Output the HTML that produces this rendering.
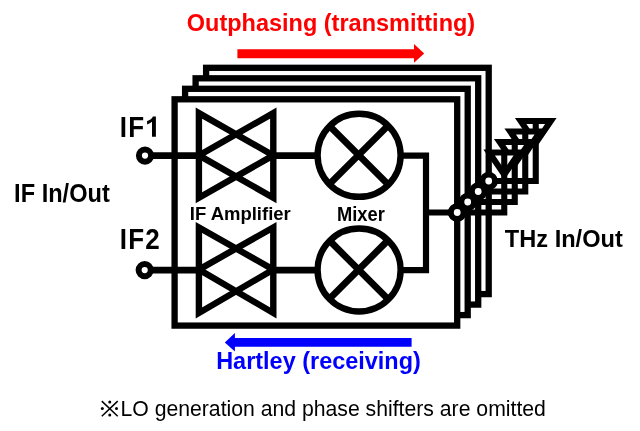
<!DOCTYPE html>
<html><head><meta charset="utf-8"><style>
html,body{margin:0;padding:0;background:#fff;overflow:hidden;}
svg{display:block;will-change:transform;}
</style></head><body>
<svg width="640" height="431" viewBox="0 0 640 431">
<g transform="translate(31.5,-31.5)">
<rect x="174.6" y="99.3" width="282.6" height="226.3" fill="#fff" stroke="#000" stroke-width="6.3"/>
<path d="M489.2 152.5 H519.3 L504.25 174.6 Z" fill="#fff" stroke="#000" stroke-width="6.1" stroke-miterlimit="10"/>
<path d="M457.2 212.5 H504.25 V152.5" fill="none" stroke="#000" stroke-width="6.1"/>
<circle cx="457.2" cy="212.5" r="6.3" fill="#fff" stroke="#000" stroke-width="5.8"/>
</g>
<g transform="translate(21.0,-21.0)">
<rect x="174.6" y="99.3" width="282.6" height="226.3" fill="#fff" stroke="#000" stroke-width="6.3"/>
<path d="M489.2 152.5 H519.3 L504.25 174.6 Z" fill="#fff" stroke="#000" stroke-width="6.1" stroke-miterlimit="10"/>
<path d="M457.2 212.5 H504.25 V152.5" fill="none" stroke="#000" stroke-width="6.1"/>
<circle cx="457.2" cy="212.5" r="6.3" fill="#fff" stroke="#000" stroke-width="5.8"/>
</g>
<g transform="translate(10.5,-10.5)">
<rect x="174.6" y="99.3" width="282.6" height="226.3" fill="#fff" stroke="#000" stroke-width="6.3"/>
<path d="M489.2 152.5 H519.3 L504.25 174.6 Z" fill="#fff" stroke="#000" stroke-width="6.1" stroke-miterlimit="10"/>
<path d="M457.2 212.5 H504.25 V152.5" fill="none" stroke="#000" stroke-width="6.1"/>
<circle cx="457.2" cy="212.5" r="6.3" fill="#fff" stroke="#000" stroke-width="5.8"/>
</g>
<g transform="translate(0.0,0.0)">
<rect x="174.6" y="99.3" width="282.6" height="226.3" fill="#fff" stroke="#000" stroke-width="6.3"/>
<path d="M489.2 152.5 H519.3 L504.25 174.6 Z" fill="#fff" stroke="#000" stroke-width="6.1" stroke-miterlimit="10"/>
<path d="M457.2 212.5 H504.25 V152.5" fill="none" stroke="#000" stroke-width="6.1"/>
<circle cx="457.2" cy="212.5" r="6.3" fill="#fff" stroke="#000" stroke-width="5.8"/>
</g>
<path d="M145 155.6 H199 M273.3 155.6 H318 M145 270.1 H199 M273.3 270.1 H318" stroke="#000" stroke-width="6.6"/>
<path d="M198.9 113.1 V197.8 L273.3 155.4 Z M273.3 113.1 V197.8 L198.9 155.4 Z" fill="none" stroke="#000" stroke-width="6.4" stroke-miterlimit="10"/>
<path d="M198.9 227.4 V312.9 L273.3 269.6 Z M273.3 227.4 V312.9 L198.9 269.6 Z" fill="none" stroke="#000" stroke-width="6.4" stroke-miterlimit="10"/>
<circle cx="359.1" cy="155.3" r="41.5" fill="none" stroke="#000" stroke-width="6.4"/><path d="M330.67 127.07 L386.53 182.93 M386.53 127.07 L330.67 182.93" stroke="#000" stroke-width="6.8"/>
<circle cx="359.1" cy="270.0" r="41.5" fill="none" stroke="#000" stroke-width="6.4"/><path d="M330.67 241.77 L386.53 297.63 M386.53 241.77 L330.67 297.63" stroke="#000" stroke-width="6.8"/>
<path d="M400 155.6 H426 V270.1 H400 M426 212.5 H457" fill="none" stroke="#000" stroke-width="6.2"/>
<circle cx="457.2" cy="212.5" r="6.3" fill="#fff" stroke="#000" stroke-width="5.8"/>
<circle cx="145" cy="155.6" r="6.1" fill="#fff" stroke="#000" stroke-width="6"/>
<circle cx="144.7" cy="270.1" r="6.1" fill="#fff" stroke="#000" stroke-width="6"/>
<path d="M237.4 49.2 H414 V44.1 L424.2 53.6 L414 62.8 V58.2 H237.4 Z" fill="#f00"/>
<path d="M411.6 338 H234.9 V333 L224.8 342.4 L234.9 351.6 V346.8 H411.6 Z" fill="#00f"/>
<text transform="translate(186.79,31) scale(1,1.03)" font-family="Liberation Sans" font-weight="bold" font-size="23.5" fill="#f00">Outphasing (transmitting)</text>
<text transform="translate(119.66,136.9) scale(1,1.14)" font-family="Liberation Sans" font-weight="bold" font-size="26" letter-spacing="1.3">IF</text>
<path d="M152 136.8 H155.9 V116.4 H152.9 Q151.5 119.5 147.1 121.1 V124.4 Q150 123.4 152 121.8 Z"/>
<text transform="translate(119.66,249.1) scale(1,1.14)" font-family="Liberation Sans" font-weight="bold" font-size="26" letter-spacing="1.3">IF2</text>
<text transform="translate(14.12,201.5) scale(1,1.07)" font-family="Liberation Sans" font-weight="bold" font-size="23.6" fill="#000">IF In/Out</text>
<text transform="translate(189.76,219.7) scale(1,1.04)" font-family="Liberation Sans" font-weight="bold" font-size="18.5" fill="#000">IF Amplifier</text>
<text transform="translate(336.98,220.9) scale(1,1.06)" font-family="Liberation Sans" font-weight="bold" font-size="18.3" fill="#000">Mixer</text>
<text transform="translate(504.84,247.4) scale(1,1.0)" font-family="Liberation Sans" font-weight="bold" font-size="23.6" fill="#000">THz In/Out</text>
<text transform="translate(216.18,369) scale(1,1.0)" font-family="Liberation Sans" font-weight="bold" font-size="23.46" fill="#00f">Hartley (receiving)</text>
<text transform="translate(120.46,415.5) scale(1,1.07)" font-family="Liberation Sans" font-size="21.21" fill="#000">LO generation and phase shifters are omitted</text>
<path d="M101.8 401.1 L117.7 416.3 M117.7 401.1 L101.8 416.3" stroke="#000" stroke-width="1.5"/>
<g fill="#000"><circle cx="109.75" cy="401.9" r="1.5"/><circle cx="109.75" cy="415" r="1.5"/><circle cx="102.3" cy="408.5" r="1.5"/><circle cx="116.5" cy="408.5" r="1.5"/></g>
</svg>
</body></html>
